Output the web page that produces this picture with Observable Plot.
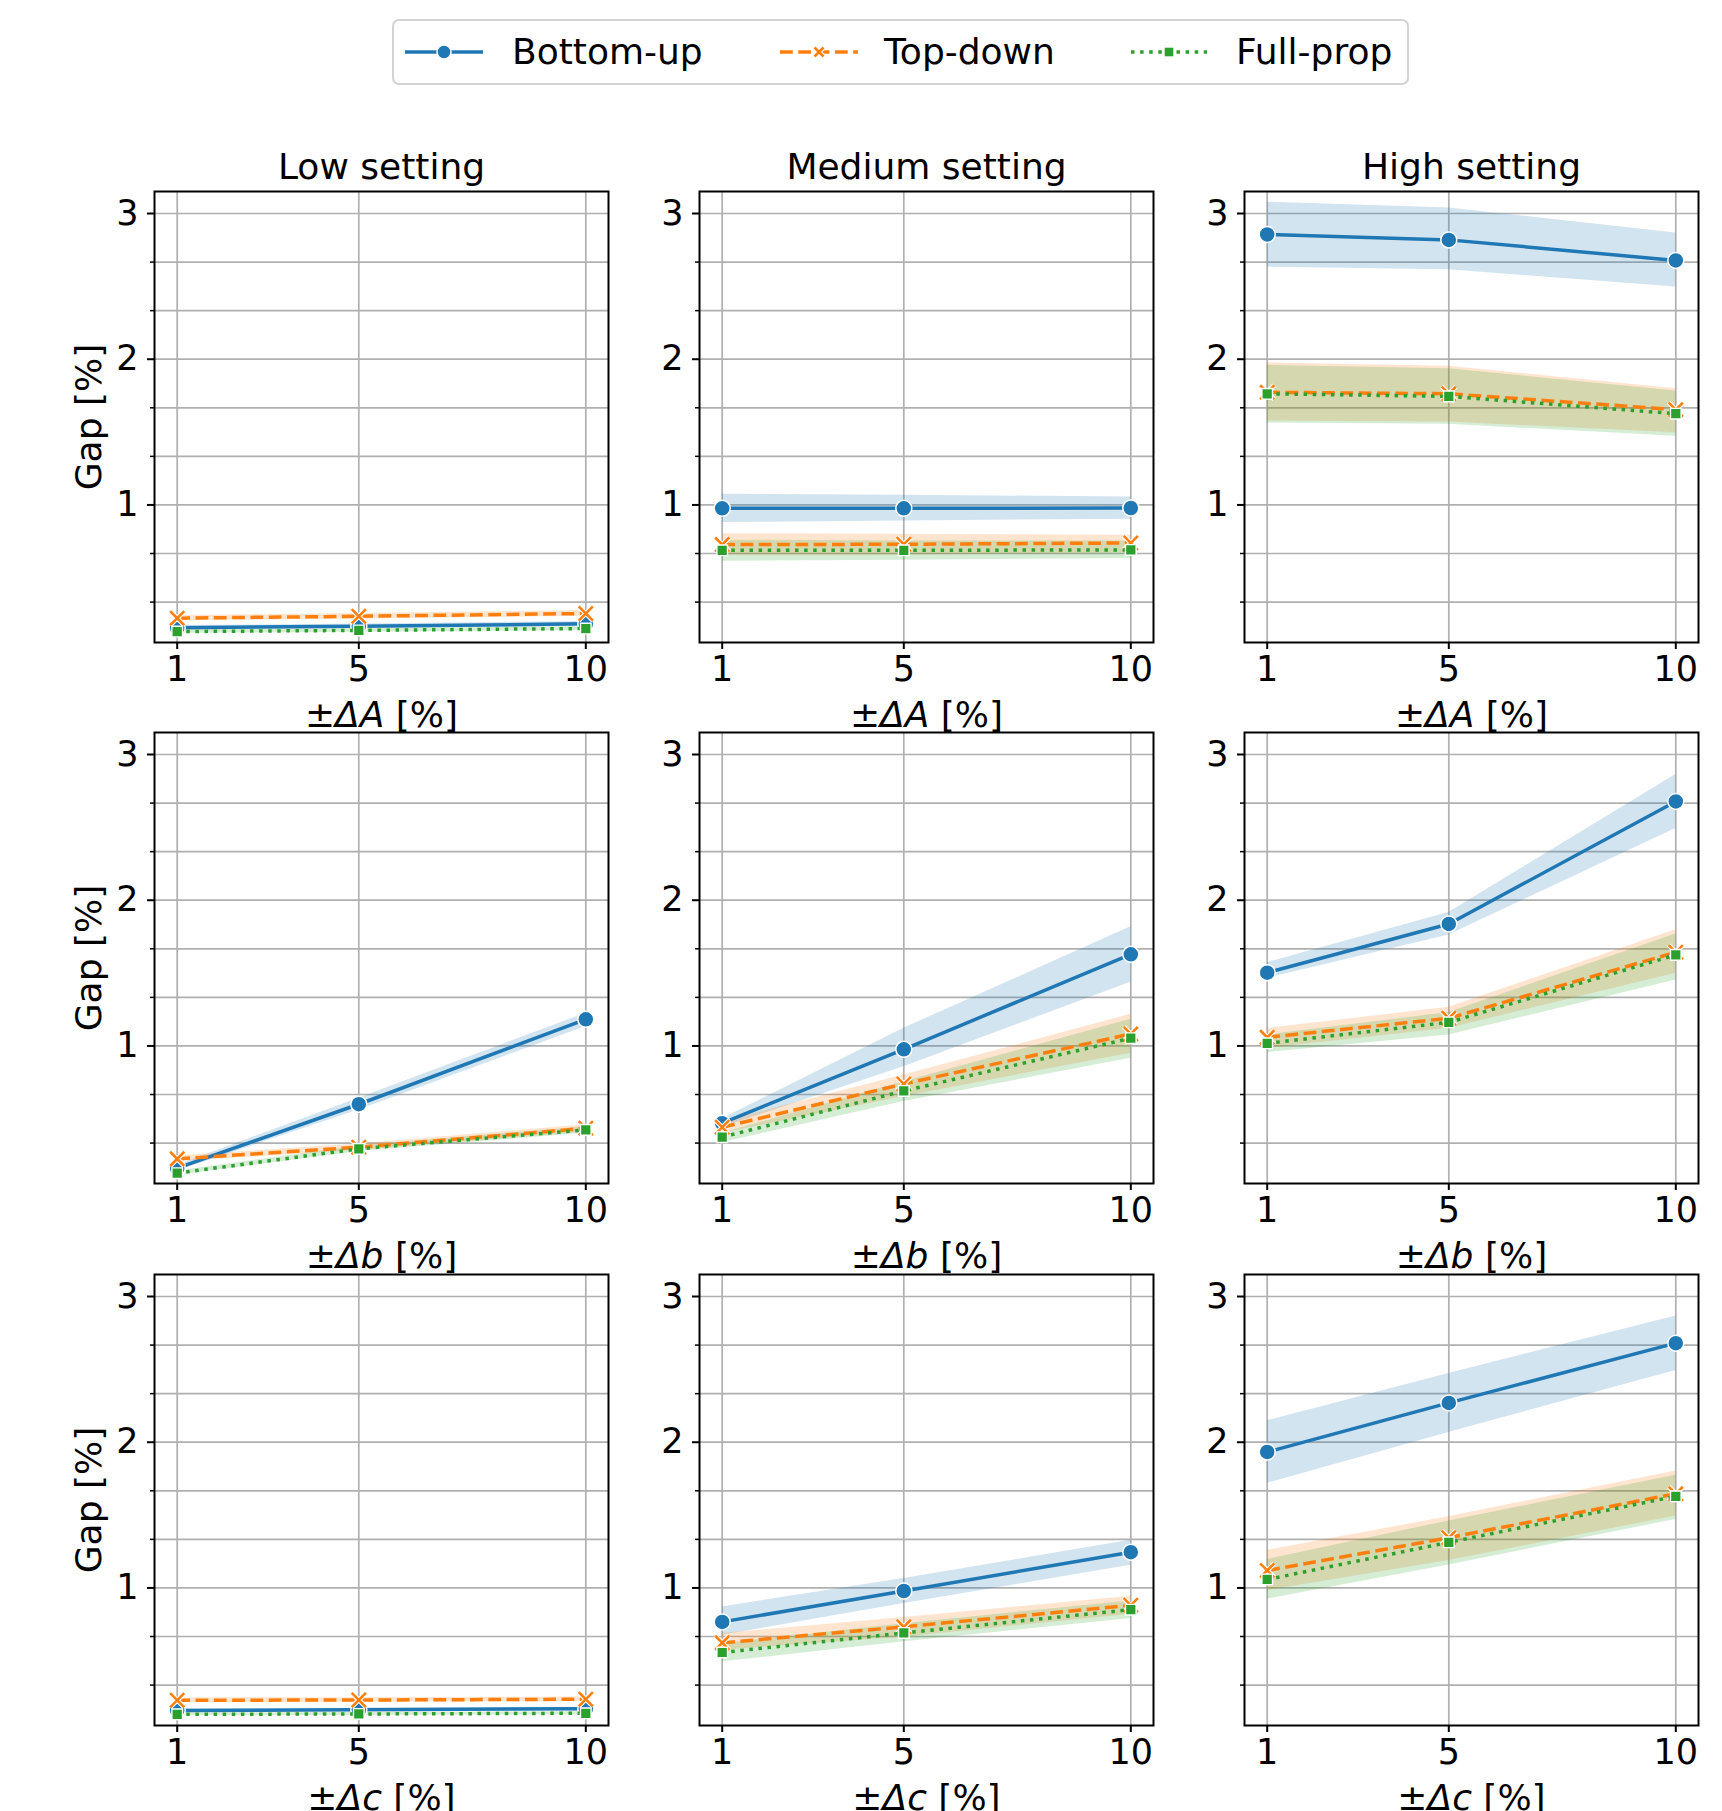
<!DOCTYPE html>
<html>
<head>
<meta charset="utf-8">
<script src="https://cdn.jsdelivr.net/npm/d3@7"></script>
<script src="https://cdn.jsdelivr.net/npm/@observablehq/plot@0.6"></script>
<style>
  body { margin: 0; background: #fff; }
  #fig { position: relative; width: 1722px; height: 1811px; overflow: hidden; background: #fff; font-family: "DejaVu Sans", sans-serif; }
  #fig svg { position: absolute; overflow: visible; }
</style>
</head>
<body>
<div id="fig"></div>
<script>
// ---------------- data ----------------
const settings = ["Low setting", "Medium setting", "High setting"]; // columns
const params = ["A", "b", "c"];                                      // rows
const deltas = [1, 5, 10];                                           // x values
const methods = ["Bottom-up", "Top-down", "Full-prop"];
const colors = ["#1f77b4", "#ff7f0e", "#2ca02c"];
const xTicks = [1, 5, 10];
const yTicks = [1, 2, 3];
const yMinorTicks = [1/3, 2/3, 4/3, 5/3, 7/3, 8/3];
const yGridValues = [1/3, 2/3, 1, 4/3, 5/3, 2, 7/3, 8/3, 3];

// each array: [param row][setting column][delta index]
const bottomUpMean = [
  [[0.157, 0.168, 0.184], [0.977, 0.977, 0.979], [2.856, 2.819, 2.678]],
  [[0.161, 0.600, 1.183], [0.470, 0.977, 1.629], [1.503, 1.837, 2.678]],
  [[0.159, 0.164, 0.171], [0.767, 0.979, 1.245], [1.933, 2.270, 2.680]]
];
const bottomUpLo = [
  [[0.142, 0.153, 0.168], [0.879, 0.890, 0.902], [2.632, 2.614, 2.495]],
  [[0.141, 0.561, 1.133], [0.440, 0.858, 1.437], [1.464, 1.761, 2.493]],
  [[0.148, 0.153, 0.160], [0.675, 0.893, 1.155], [1.718, 2.067, 2.492]]
];
const bottomUpHi = [
  [[0.172, 0.183, 0.200], [1.073, 1.066, 1.055], [3.078, 3.037, 2.867]],
  [[0.181, 0.641, 1.224], [0.500, 1.121, 1.818], [1.571, 1.915, 2.863]],
  [[0.170, 0.175, 0.182], [0.870, 1.064, 1.327], [2.147, 2.472, 2.867]]
];
const topDownMean = [
  [[0.223, 0.236, 0.255], [0.728, 0.730, 0.739], [1.773, 1.763, 1.654]],
  [[0.225, 0.305, 0.435], [0.442, 0.739, 1.082], [1.059, 1.190, 1.643]],
  [[0.229, 0.231, 0.236], [0.623, 0.733, 0.881], [1.120, 1.345, 1.646]]
];
const topDownLo = [
  [[0.205, 0.218, 0.236], [0.655, 0.655, 0.671], [1.576, 1.569, 1.496]],
  [[0.205, 0.283, 0.410], [0.400, 0.653, 0.950], [0.984, 1.121, 1.499]],
  [[0.213, 0.215, 0.220], [0.573, 0.664, 0.819], [0.983, 1.188, 1.494]]
];
const topDownHi = [
  [[0.241, 0.255, 0.275], [0.803, 0.799, 0.792], [1.974, 1.951, 1.798]],
  [[0.245, 0.327, 0.460], [0.480, 0.800, 1.217], [1.121, 1.265, 1.797]],
  [[0.245, 0.247, 0.252], [0.687, 0.797, 0.943], [1.258, 1.489, 1.802]]
];
const fullPropMean = [
  [[0.131, 0.139, 0.152], [0.689, 0.689, 0.691], [1.763, 1.745, 1.626]],
  [[0.127, 0.294, 0.424], [0.374, 0.691, 1.053], [1.018, 1.162, 1.625]],
  [[0.133, 0.135, 0.140], [0.557, 0.691, 0.851], [1.058, 1.313, 1.629]]
];
const fullPropLo = [
  [[0.119, 0.127, 0.139], [0.614, 0.621, 0.632], [1.562, 1.553, 1.471]],
  [[0.112, 0.275, 0.402], [0.337, 0.618, 0.915], [0.954, 1.075, 1.453]],
  [[0.123, 0.125, 0.130], [0.493, 0.630, 0.790], [0.923, 1.157, 1.470]]
];
const fullPropHi = [
  [[0.143, 0.151, 0.165], [0.758, 0.753, 0.753], [1.958, 1.935, 1.782]],
  [[0.142, 0.313, 0.446], [0.400, 0.755, 1.183], [1.075, 1.229, 1.769]],
  [[0.143, 0.145, 0.150], [0.618, 0.755, 0.911], [1.195, 1.460, 1.773]]
];

// ---------------- layout ----------------
const means = [bottomUpMean, topDownMean, fullPropMean];
const los = [bottomUpLo, topDownLo, fullPropLo];
const his = [bottomUpHi, topDownHi, fullPropHi];
const FL = [154, 699, 1244];
const FT = [191, 732.3, 1273.6];
const FW = 454, FH = 451;
const ML = 110, MR = 14, MT = 70, MB = 100;
const FONT = "DejaVu Sans";
const TICK_FS = 35, LABEL_FS = 36;
const fig = document.getElementById("fig");

function lineStyle(k) {
  if (k === 0) return {strokeWidth: 3.5};
  if (k === 1) return {strokeWidth: 3.5, strokeDasharray: "12.8,5.5", strokeLinecap: "butt"};
  return {strokeWidth: 3.5, strokeDasharray: "3.5,5.6", strokeLinecap: "butt"};
}
function markerMarks(rows, k) {
  if (k === 0) return [Plot.dot(rows, {x: "delta", y: "mean", symbol: "circle", r: 8, fill: colors[0], stroke: "white", strokeWidth: 1.5})];
  if (k === 1) return [
    Plot.dot(rows, {x: "delta", y: "mean", symbol: "times", r: 6.5, stroke: "white", strokeWidth: 4.8}),
    Plot.dot(rows, {x: "delta", y: "mean", symbol: "times", r: 6.5, stroke: colors[1], strokeWidth: 2.6})
  ];
  return [Plot.dot(rows, {x: "delta", y: "mean", symbol: "square", r: 6, fill: colors[2], stroke: "white", strokeWidth: 1.4})];
}

for (let r = 0; r < 3; r++) {
  for (let c = 0; c < 3; c++) {
    const series = methods.map((m, k) => deltas.map((d, i) => ({
      method: m, delta: d,
      mean: means[k][r][c][i], lo: los[k][r][c][i], hi: his[k][r][c][i]
    })));
    const xLabel = "±Δ" + params[r] + " [%]";
    const marks = [
      Plot.gridY(yGridValues, {stroke: "#b0b0b0", strokeOpacity: 1, strokeWidth: 1.7}),
      Plot.gridX(xTicks, {stroke: "#b0b0b0", strokeOpacity: 1, strokeWidth: 1.7}),
      ...series.map((rows, k) => Plot.areaY(rows, {x: "delta", y1: "lo", y2: "hi", fill: colors[k], fillOpacity: 0.2})),
      ...series.flatMap((rows, k) => [
        Plot.line(rows, {x: "delta", y: "mean", stroke: colors[k], ...lineStyle(k)}),
        ...markerMarks(rows, k)
      ]),
      Plot.frame({stroke: "black", strokeWidth: 2}),
      Plot.axisX({ticks: xTicks, tickSize: 7, tickPadding: 7, fontSize: TICK_FS, strokeWidth: 2, label: null, tickFormat: d => String(d)}),
      Plot.axisY({ticks: yTicks, tickSize: 7, tickPadding: 9, fontSize: TICK_FS, strokeWidth: 2, label: null, tickFormat: d => String(d)}),
      Plot.axisY({ticks: yMinorTicks, tickSize: 4, strokeWidth: 1.5, label: null, tickFormat: () => ""}),
      Plot.text([xLabel], {frameAnchor: "bottom", textAnchor: "middle", dy: 84, lineAnchor: "bottom", fontSize: LABEL_FS, fill: "black"})
    ];
    if (r === 0) marks.push(Plot.text([settings[c]], {frameAnchor: "top", textAnchor: "middle", dy: -13, lineAnchor: "bottom", fontSize: LABEL_FS, fill: "black"}));
    if (c === 0) marks.push(Plot.text(["Gap [%]"], {frameAnchor: "left", textAnchor: "middle", dx: -65, rotate: -90, lineAnchor: "middle", fontSize: LABEL_FS, fill: "black"}));

    const svg = Plot.plot({
      width: ML + FW + MR,
      height: MT + FH + MB,
      marginLeft: ML, marginRight: MR, marginTop: MT, marginBottom: MB,
      x: {type: "linear", domain: [0.5, 10.5]},
      y: {type: "linear", domain: [0.056, 3.151]},
      style: {fontFamily: FONT, fontSize: TICK_FS + "px", background: "transparent", overflow: "visible", maxWidth: "none", color: "black"},
      marks
    });
    svg.style.left = (FL[c] - ML) + "px";
    svg.style.top = (FT[r] - MT) + "px";
    // italic math part of the x label
    svg.querySelectorAll("text").forEach(t => {
      if (t.textContent === xLabel) {
        while (t.firstChild) t.removeChild(t.firstChild);
        const ns = "http://www.w3.org/2000/svg";
        const a = document.createElementNS(ns, "tspan"); a.textContent = "±";
        const b = document.createElementNS(ns, "tspan"); b.textContent = "Δ" + params[r]; b.setAttribute("font-style", "italic");
        const d = document.createElementNS(ns, "tspan"); d.textContent = " [%]";
        t.appendChild(a); t.appendChild(b); t.appendChild(d);
      }
    });
    fig.appendChild(svg);
  }
}

// ---------------- legend ----------------
const lg = d3.select(fig).append("svg")
  .attr("width", 1722).attr("height", 110)
  .style("left", "0px").style("top", "0px")
  .attr("font-family", FONT);
lg.append("rect").attr("x", 393).attr("y", 20).attr("width", 1015).attr("height", 64)
  .attr("rx", 6).attr("fill", "white").attr("stroke", "#d3d3d3").attr("stroke-width", 2);
const items = [
  {x0: 405, x1: 483, tx: 512},
  {x0: 780, x1: 858, tx: 884},
  {x0: 1131, x1: 1207, tx: 1236}
];
methods.forEach((m, k) => {
  const it = items[k], cy = 52, cx = (it.x0 + it.x1) / 2;
  const ln = lg.append("line").attr("x1", it.x0).attr("x2", it.x1).attr("y1", cy).attr("y2", cy)
    .attr("stroke", colors[k]).attr("stroke-width", 3.5);
  if (k === 1) ln.attr("stroke-dasharray", "12.8,5.5");
  if (k === 2) ln.attr("stroke-dasharray", "3.5,5.6");
  if (k === 0) lg.append("circle").attr("cx", cx).attr("cy", cy).attr("r", 7).attr("fill", colors[0]).attr("stroke", "white").attr("stroke-width", 1.5);
  if (k === 1) {
    const p = `M${cx-4.5},${cy-4.5}L${cx+4.5},${cy+4.5}M${cx-4.5},${cy+4.5}L${cx+4.5},${cy-4.5}`;
    lg.append("path").attr("d", p).attr("stroke", "white").attr("stroke-width", 4.8).attr("fill", "none");
    lg.append("path").attr("d", p).attr("stroke", colors[1]).attr("stroke-width", 2.6).attr("fill", "none");
  }
  if (k === 2) lg.append("rect").attr("x", cx - 5).attr("y", cy - 5).attr("width", 10).attr("height", 10).attr("fill", colors[2]).attr("stroke", "white").attr("stroke-width", 1.4);
  lg.append("text").attr("x", it.tx).attr("y", 64).attr("font-size", 36).attr("fill", "black").text(m);
});
</script>
</body>
</html>
